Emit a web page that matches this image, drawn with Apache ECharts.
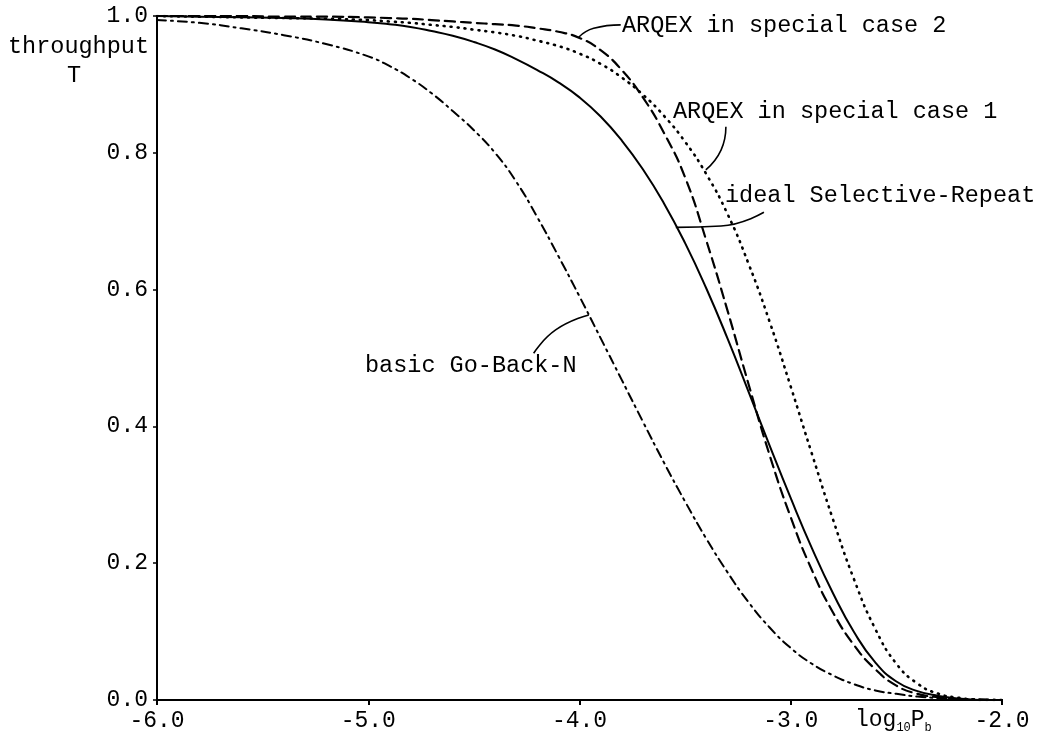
<!DOCTYPE html>
<html>
<head>
<meta charset="utf-8">
<script src="https://cdn.jsdelivr.net/npm/echarts/dist/echarts.min.js"></script>
<style>
  html, body { margin: 0; padding: 0; background: #fff; }
  #chart { width: 1049px; height: 738px; }
</style>
</head>
<body>
<div id="chart"></div>
<script>
// log10 Pb sample positions
const logPb = [-6.0, -5.8, -5.6, -5.4, -5.2, -5.0, -4.9, -4.8, -4.7, -4.6, -4.5, -4.4, -4.3, -4.2, -4.1,
  -4.0, -3.9, -3.8, -3.7, -3.6, -3.5, -3.4, -3.3, -3.2, -3.1, -3.0, -2.9, -2.8, -2.7, -2.6, -2.5,
  -2.4, -2.3, -2.2, -2.1, -2.0];

// throughput
const goBackN = [0.994, 0.99, 0.982, 0.972, 0.959, 0.941, 0.927, 0.909, 0.887, 0.861, 0.833, 0.80, 0.758, 0.706, 0.649,
  0.59, 0.529, 0.468, 0.407, 0.347, 0.29, 0.236, 0.187, 0.143, 0.106, 0.076, 0.053, 0.036, 0.023, 0.014, 0.009,
  0.005, 0.003, 0.002, 0.001, 0.0];
const selRepeat = [1.0, 0.999, 0.998, 0.997, 0.995, 0.991, 0.988, 0.984, 0.978, 0.971, 0.962, 0.951, 0.937, 0.921, 0.903,
  0.881, 0.853, 0.818, 0.776, 0.726, 0.668, 0.602, 0.529, 0.451, 0.372, 0.295, 0.222, 0.156, 0.099, 0.055, 0.027,
  0.013, 0.006, 0.002, 0.0, 0.0];
const arqexCase2 = [1.0, 1.0, 1.0, 0.999, 0.999, 0.998, 0.997, 0.996, 0.994, 0.992, 0.99, 0.988, 0.986, 0.982, 0.977,
  0.968, 0.95, 0.921, 0.881, 0.829, 0.764, 0.672, 0.57, 0.462, 0.358, 0.267, 0.19, 0.128, 0.08, 0.045, 0.021,
  0.009, 0.004, 0.001, 0.0, 0.0];
const arqexCase1 = [1.0, 0.999, 0.998, 0.997, 0.996, 0.994, 0.992, 0.99, 0.987, 0.984, 0.98, 0.976, 0.971, 0.964, 0.956,
  0.945, 0.93, 0.91, 0.885, 0.854, 0.816, 0.769, 0.711, 0.638, 0.553, 0.458, 0.36, 0.264, 0.176, 0.104, 0.053,
  0.024, 0.009, 0.003, 0.0, 0.0];

// leader lines from the labels to the curves, in data units
const leaderCase2 = [[-3.805, 0.987], [-3.933, 0.982], [-4.004, 0.969]];
const leaderCase1 = [[-3.307, 0.838], [-3.33, 0.804], [-3.402, 0.775]];
const leaderSR = [[-3.127, 0.713], [-3.33, 0.693], [-3.544, 0.691]];
const leaderGBN = [[-4.217, 0.507], [-4.113, 0.541], [-3.956, 0.563]];

const xTicks = [-6.0, -5.0, -4.0, -3.0, -2.0];
const yTicks = [0.0, 0.2, 0.4, 0.6, 0.8, 1.0];

const FONT = '"Liberation Mono", "DejaVu Sans Mono", monospace';

function pairs(ys) {
  return logPb.map((x, i) => [x, ys[i]]);
}

function curve(name, ys, type, width) {
  return {
    name: name,
    type: 'line',
    data: pairs(ys),
    smooth: 0.5,
    showSymbol: false,
    silent: true,
    lineStyle: { color: '#000', width: width, type: type, cap: 'round' }
  };
}

function leader(pts) {
  return {
    type: 'line',
    data: pts,
    smooth: true,
    showSymbol: false,
    silent: true,
    lineStyle: { color: '#000', width: 1.6, type: 'solid' }
  };
}

let chart = echarts.init(document.getElementById('chart'));

let option = {
  animation: false,
  backgroundColor: '#fff',
  grid: { left: 157, right: 47, top: 16, bottom: 38 },
  xAxis: {
    type: 'value',
    min: -6, max: -2, interval: 1,
    axisLine: { lineStyle: { color: '#000', width: 2 } },
    axisTick: { show: true, length: 5, lineStyle: { color: '#000', width: 2 } },
    splitLine: { show: false },
    axisLabel: {
      color: '#000', fontFamily: FONT, fontSize: 23, margin: 9,
      formatter: v => xTicks.includes(v) ? v.toFixed(1) : ''
    }
  },
  yAxis: {
    type: 'value',
    min: 0, max: 1, interval: 0.2,
    axisLine: { lineStyle: { color: '#000', width: 2 } },
    axisTick: { show: true, length: 4, lineStyle: { color: '#000', width: 1.5 } },
    splitLine: { show: false },
    axisLabel: {
      color: '#000', fontFamily: FONT, fontSize: 23, margin: 9,
      formatter: v => v.toFixed(1)
    }
  },
  series: [
    curve('basic Go-Back-N', goBackN, [9, 5, 2, 5], 2),
    curve('ideal Selective-Repeat', selRepeat, 'solid', 2),
    curve('ARQEX in special case 2', arqexCase2, [10, 6], 2.2),
    curve('ARQEX in special case 1', arqexCase1, [1, 6], 2.6),
    leader(leaderCase2),
    leader(leaderCase1),
    leader(leaderSR),
    leader(leaderGBN)
  ],
  graphic: [
    { type: 'text', left: 8, top: 35, style: { text: 'throughput', font: '23.5px ' + FONT, fill: '#000' } },
    { type: 'text', left: 67, top: 64, style: { text: 'T', font: '23.5px ' + FONT, fill: '#000' } },
    { type: 'text', left: 622, top: 14, style: { text: 'ARQEX in special case 2', font: '23.5px ' + FONT, fill: '#000' } },
    { type: 'text', left: 673, top: 100, style: { text: 'ARQEX in special case 1', font: '23.5px ' + FONT, fill: '#000' } },
    { type: 'text', left: 725, top: 184, style: { text: 'ideal Selective-Repeat', font: '23.5px ' + FONT, fill: '#000' } },
    { type: 'text', left: 365, top: 354, style: { text: 'basic Go-Back-N', font: '23.5px ' + FONT, fill: '#000' } },
    {
      type: 'text', left: 855, top: 708,
      style: {
        text: '{m|log}{s|10}{m|P}{s|b}',
        fill: '#000',
        rich: {
          m: { fontFamily: FONT, fontSize: 23, fill: '#000' },
          s: { fontFamily: FONT, fontSize: 12, fill: '#000', padding: [16, 0, 0, 0] }
        }
      }
    }
  ]
};

chart.setOption(option);
</script>
</body>
</html>
